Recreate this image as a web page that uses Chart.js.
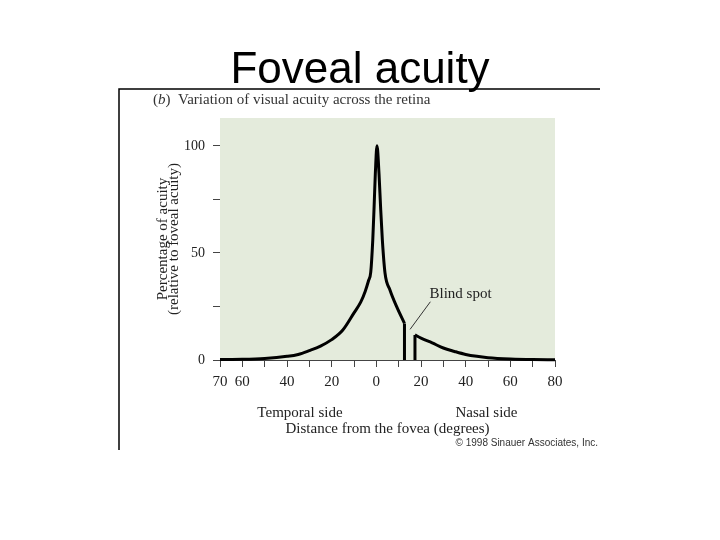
<!DOCTYPE html>
<html>
<head>
<meta charset="utf-8">
<script src="https://cdn.jsdelivr.net/npm/chart.js@4/dist/chart.umd.min.js"></script>
<style>
  html, body { margin: 0; padding: 0; background: #fff; }
  #wrap { width: 720px; height: 540px; }
</style>
</head>
<body>
<div id="wrap"><canvas id="chartAcuity" width="720" height="540"></canvas></div>
<script>
// distance from the fovea (degrees, temporal side negative) and acuity (%)
var innerX = [-70, -60, -50, -40, -35, -30, -25, -20, -15, -10, -7, -5, -3.5, -2.5, -1.6, -1, -0.45, 0.3, 1.2, 1.9, 2.7, 3.9, 6.1, 9.1, 12.6];
var innerAcuity = [0.2, 0.3, 0.7, 1.7, 2.6, 4.4, 6.5, 9.5, 14, 22, 27, 32, 37, 41, 56, 71.5, 87, 100, 87, 71.5, 56, 40.5, 32.7, 24.9, 17.1];
var outerX = [17.3, 20, 25, 30, 35, 40, 45, 50, 60, 70, 80];
var outerAcuity = [11.7, 10.2, 8, 5.6, 4, 2.6, 1.7, 1.1, 0.5, 0.2, 0.1];
var blindSpotEdges = [12.6, 17.3];
var xLabelled = [-70, -60, -40, -20, 0, 20, 40, 60, 80];
var yLabelled = [0, 50, 100];

function toPoints(xs, ys) {
    return xs.map(function(x, i) { return {x: x, y: ys[i]}; });
}

var lineStyle = {
    borderColor: '#000000',
    borderWidth: 3,
    pointRadius: 0,
    fill: false,
    clip: false
};

var datasets = [
    Object.assign({data: toPoints(innerX, innerAcuity), cubicInterpolationMode: 'monotone'}, lineStyle),
    Object.assign({data: [{x: blindSpotEdges[0], y: innerAcuity[innerAcuity.length - 1]}, {x: blindSpotEdges[0], y: 0}]}, lineStyle),
    Object.assign({data: [{x: blindSpotEdges[1], y: 0}, {x: blindSpotEdges[1], y: outerAcuity[0]}]}, lineStyle),
    Object.assign({data: toPoints(outerX, outerAcuity), cubicInterpolationMode: 'monotone'}, lineStyle)
];

// background of plot, frame, headings and notes
var decorations = {
    id: 'decorations',
    beforeDatasetsDraw: function(chart) {
        var a = chart.chartArea, ctx = chart.ctx;
        ctx.save();
        ctx.fillStyle = '#e4ebdc';
        ctx.fillRect(a.left, a.top, a.right - a.left, a.bottom - a.top);
        ctx.restore();
    },
    beforeDraw: function(chart) {
        var ctx = chart.ctx;
        ctx.save();
        ctx.fillStyle = '#000';
        ctx.font = '44px "Liberation Sans", Arial, sans-serif';
        ctx.textAlign = 'center';
        ctx.textBaseline = 'alphabetic';
        ctx.fillText('Foveal acuity', 360, 83);

        ctx.strokeStyle = '#000';
        ctx.lineWidth = 1.5;
        ctx.beginPath();
        ctx.moveTo(119, 450);
        ctx.lineTo(119, 89);
        ctx.lineTo(600, 89);
        ctx.stroke();

        ctx.fillStyle = '#333';
        ctx.textAlign = 'left';
        var x = 153;
        ctx.font = '15px "Liberation Serif", serif';
        ctx.fillText('(', x, 104);
        x += ctx.measureText('(').width;
        ctx.font = 'italic 15px "Liberation Serif", serif';
        ctx.fillText('b', x, 104);
        x += ctx.measureText('b').width;
        ctx.font = '15px "Liberation Serif", serif';
        ctx.fillText(')  Variation of visual acuity across the retina', x, 104);
        ctx.restore();
    },
    afterDraw: function(chart) {
        var ctx = chart.ctx, a = chart.chartArea;
        var sx = chart.scales.x, sy = chart.scales.y;
        ctx.save();
        ctx.fillStyle = '#222';
        ctx.font = '15px "Liberation Serif", serif';
        ctx.textAlign = 'center';
        ctx.textBaseline = 'middle';
        ctx.fillText('Temporal side', sx.getPixelForValue(-34.2), a.bottom + 53);
        ctx.fillText('Nasal side', sx.getPixelForValue(49.3), a.bottom + 53);

        ctx.textAlign = 'left';
        ctx.fillText('Blind spot', sx.getPixelForValue(23.8), sy.getPixelForValue(30.8));
        ctx.strokeStyle = '#333';
        ctx.lineWidth = 1;
        ctx.beginPath();
        ctx.moveTo(sx.getPixelForValue(24.2), sy.getPixelForValue(27.2));
        ctx.lineTo(sx.getPixelForValue(15.1), sy.getPixelForValue(14.3));
        ctx.stroke();

        ctx.fillStyle = '#333';
        ctx.font = '10px "Liberation Sans", Arial, sans-serif';
        ctx.textAlign = 'right';
        ctx.textBaseline = 'alphabetic';
        ctx.fillText('\u00a9 1998 Sinauer Associates, Inc.', 598, 446);
        ctx.restore();
    }
};

Chart.defaults.font.family = '"Liberation Serif", serif';
Chart.defaults.color = '#222';

var ctx = document.getElementById('chartAcuity');
var acuityChart = new Chart(ctx, {
    type: 'line',
    data: { datasets: datasets },
    options: {
        responsive: false,
        animation: false,
        layout: { padding: { top: 118, right: 165, bottom: 100, left: 150 } },
        plugins: {
            legend: { display: false },
            tooltip: { enabled: false }
        },
        scales: {
            x: {
                type: 'linear',
                min: -70,
                max: 80,
                afterFit: function(scale) { scale.height = 80; },
                ticks: {
                    stepSize: 10,
                    maxRotation: 0,
                    autoSkip: false,
                    padding: 6,
                    font: { size: 15 },
                    callback: function(v) { return xLabelled.indexOf(v) >= 0 ? String(Math.abs(v)) : ''; }
                },
                grid: { drawOnChartArea: false, drawTicks: true, tickLength: 7, color: '#444' },
                border: { color: '#444', width: 1 },
                title: {
                    display: true,
                    text: 'Distance from the fovea (degrees)',
                    font: { size: 15 },
                    padding: { top: 4, bottom: 2 }
                }
            },
            y: {
                min: 0,
                max: 113,
                afterFit: function(scale) { scale.width = 70; },
                ticks: {
                    stepSize: 25,
                    includeBounds: false,
                    padding: 8,
                    font: { size: 14 },
                    callback: function(v) { return yLabelled.indexOf(v) >= 0 ? String(v) : ''; }
                },
                grid: { drawOnChartArea: false, drawTicks: true, tickLength: 7, color: '#444' },
                border: { color: '#444', width: 1 },
                title: {
                    display: true,
                    text: ['Percentage of acuity', '(relative to foveal acuity)'],
                    font: { size: 15, lineHeight: '11px' },
                    padding: { top: 8, bottom: 0 }
                }
            }
        }
    },
    plugins: [decorations]
});
</script>
</body>
</html>
